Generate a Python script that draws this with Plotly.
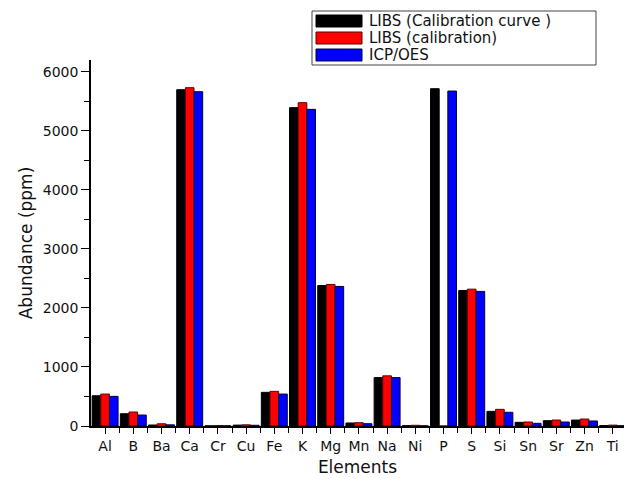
import plotly.graph_objects as go

categories = ["Al", "B", "Ba", "Ca", "Cr", "Cu", "Fe", "K", "Mg", "Mn",
              "Na", "Ni", "P", "S", "Si", "Sn", "Sr", "Zn", "Ti"]
libs_curve = [513, 208, 17, 5697, 2, 15, 570, 5393, 2380, 51,
              820, 5, 5714, 2296, 248, 62, 90, 101, 8]
libs_calib = [541, 237, 38, 5731, 8, 20, 587, 5477, 2398, 56,
              850, 12, 0, 2318, 282, 68, 101, 118, 15]
icp_oes = [502, 186, 20, 5663, 3, 12, 541, 5364, 2364, 39,
           820, 3, 5674, 2280, 232, 45, 68, 85, 5]
series_names = ["LIBS (Calibration curve )", "LIBS (calibration)", "ICP/OES"]
series_colors = ["#000000", "#ff0000", "#0000ff"]
edge_colors = ["#000000", "#600000", "#000040"]
y_ticks = [0, 1000, 2000, 3000, 4000, 5000, 6000]

W, H = 624, 479
ML, MR, MT, MB = 91, 0, 60, 53
x_idx = list(range(len(categories)))

fig = go.Figure()
for vals, name, col, ec in zip([libs_curve, libs_calib, icp_oes], series_names, series_colors, edge_colors):
    fig.add_trace(go.Bar(x=x_idx, y=vals, name=name, marker=dict(color=col, line=dict(color=ec, width=1)),
                         showlegend=False))

font = "DejaVu Sans, Verdana, sans-serif"
fig.update_layout(
    width=W, height=H, margin=dict(l=ML, r=MR, t=MT, b=MB),
    paper_bgcolor="white", plot_bgcolor="white",
    barmode="group", bargap=0.08, bargroupgap=0,
    font=dict(family=font, size=13, color="#111"),
)
fig.update_xaxes(
    range=[-0.5, 18.4], tickvals=x_idx, ticktext=categories,
    showline=True, linecolor="black", linewidth=1.5, showgrid=False, zeroline=False,
    ticks="outside", ticklen=6, tickwidth=1, tickcolor="black",
    minor=dict(tickvals=[i + 0.5 for i in x_idx], ticks="outside", ticklen=5, tickwidth=1, tickcolor="black"),
    tickfont=dict(size=14), title=dict(text="Elements", font=dict(size=17), standoff=9),
)
fig.update_yaxes(
    range=[0, 6200], tickvals=y_ticks,
    showline=True, linecolor="black", linewidth=1.5, showgrid=False, zeroline=False,
    ticks="outside", ticklen=8, tickwidth=1, tickcolor="black",
    minor=dict(dtick=500, ticks="outside", ticklen=5, tickwidth=1, tickcolor="black"),
    tickfont=dict(size=14), title=dict(text="Abundance (ppm)", font=dict(size=17), standoff=6),
)

pw, ph = W - ML - MR, H - MT - MB
def px(x):
    return (x - ML) / pw
def py(y):
    return (H - MB - y) / ph

shapes = [dict(type="rect", xref="paper", yref="paper", x0=px(312), x1=px(596), y0=py(65), y1=py(11),
               line=dict(color="#444", width=1), fillcolor="white", layer="above")]
annotations = []
rows = [21, 38, 55]
for name, col, ec, ry in zip(series_names, series_colors, edge_colors, rows):
    shapes.append(dict(type="rect", xref="paper", yref="paper", x0=px(316), x1=px(362),
                       y0=py(ry + 6), y1=py(ry - 6), fillcolor=col, line=dict(color=ec, width=1), layer="above"))
    annotations.append(dict(xref="paper", yref="paper", x=px(367), y=py(ry), text=name, showarrow=False,
                            xanchor="left", yanchor="middle", font=dict(size=15, family=font, color="#111")))
fig.update_layout(shapes=shapes, annotations=annotations)
fig.write_html("out.html")
